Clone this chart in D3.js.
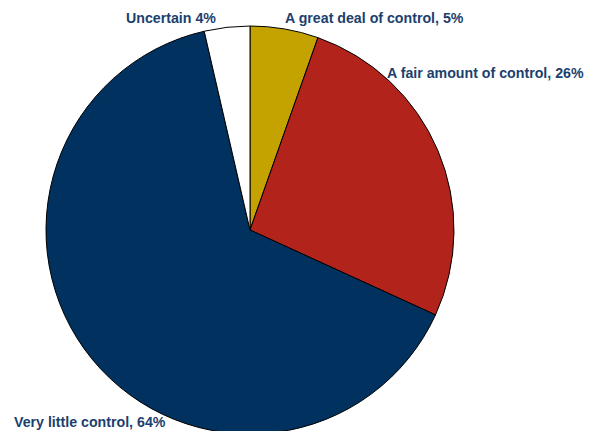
<!DOCTYPE html>
<html><head><meta charset="utf-8">
<script src="https://cdn.jsdelivr.net/npm/d3@7"></script>
<style>body{margin:0;background:#fff;}svg{display:block;}</style>
</head><body><svg id="c" width="600" height="431"></svg>
<script>
const categories = ["A great deal of control", "A fair amount of control", "Very little control", "Uncertain"];
const values = [5.4, 26.4, 64.5, 3.6];
const labelTexts = ["A great deal of control, 5%", "A fair amount of control, 26%", "Very little control, 64%", "Uncertain 4%"];
const colors = ["#c4a300", "#b2241b", "#00315f", "#ffffff"];

const svg = d3.select("#c");
const cx = 250, cy = 230, r = 204;
const data = categories.map((c, i) => ({cat: c, value: values[i], label: labelTexts[i], color: colors[i]}));
const pie = d3.pie().value(d => d.value).sort(null);
const arc = d3.arc().innerRadius(0).outerRadius(r);
const g = svg.append("g").attr("transform", `translate(${cx},${cy})`);
g.selectAll("path").data(pie(data)).join("path")
  .attr("d", arc).attr("fill", d => d.data.color)
  .attr("stroke", "#000").attr("stroke-width", 1).attr("stroke-linejoin", "round");

const labelPos = [[285, 23], [387, 78], [14, 427], [126, 23]];
svg.selectAll("text.lbl").data(data).join("text").attr("class", "lbl")
  .attr("x", (d, i) => labelPos[i][0]).attr("y", (d, i) => labelPos[i][1])
  .attr("font-family", "Liberation Sans, Arial, sans-serif").attr("font-weight", "bold")
  .attr("font-size", 14.2).attr("fill", "#1c3f6e")
  .text(d => d.label);
</script></body></html>
